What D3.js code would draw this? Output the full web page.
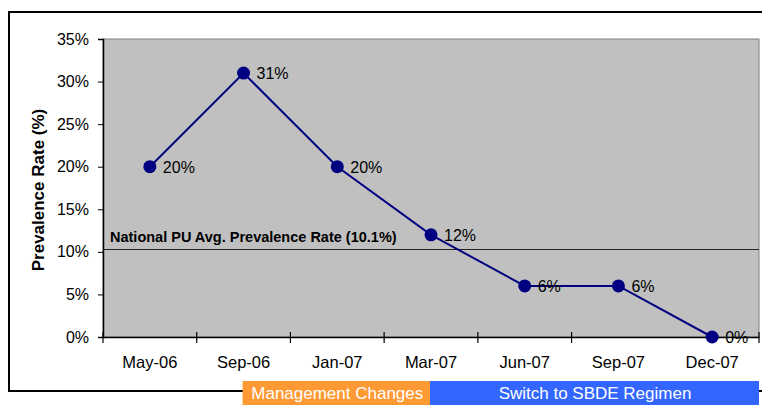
<!DOCTYPE html>
<html>
<head>
<meta charset="utf-8">
<style>
  body { margin: 0; background: #fff; }
  text { font-family: Arial, "Liberation Sans", sans-serif; }
</style>
</head>
<body>
<svg id="chart" width="762" height="405"></svg>

<script src="https://d3js.org/d3.v7.min.js"></script>
<script>
  // data
  var months = ["May-06", "Sep-06", "Jan-07", "Mar-07", "Jun-07", "Sep-07", "Dec-07"];
  var rates = [20, 31, 20, 12, 6, 6, 0];
  var yTicks = [0, 5, 10, 15, 20, 25, 30, 35];
  var nationalAvg = 10.1;
  var phases = [
    { label: "Management Changes", from: "Sep-06", to: "Mar-07", color: "#FF9933" },
    { label: "Switch to SBDE Regimen", from: "Mar-07", to: "Dec-07", color: "#3366FF" }
  ];

  var svg = d3.select("#chart");

  // outer chart frame
  svg.append("rect")
    .attr("x", 9).attr("y", 12).attr("width", 770).attr("height", 379)
    .attr("fill", "none").attr("stroke", "#000").attr("stroke-width", 2);

  var margin = { left: 103, top: 39, right: 3, bottom: 68 },
    width = 762 - margin.left - margin.right,
    height = 405 - margin.top - margin.bottom;

  var g = svg.append("g")
    .attr("transform", "translate(" + margin.left + "," + margin.top + ")");

  var x = d3.scaleBand().domain(months).range([0, width]);
  var y = d3.scaleLinear().domain([0, 35]).range([height, 0]);

  // plot area
  g.append("rect")
    .attr("width", width).attr("height", height)
    .attr("fill", "#C0C0C0").attr("stroke", "#808080").attr("stroke-width", 1);

  // y axis
  var yAxis = g.append("g")
    .call(d3.axisLeft(y).tickValues(yTicks).tickFormat(function (d) { return d + "%"; })
      .tickSize(5).tickPadding(9));
  yAxis.select(".domain").attr("stroke", "#000").attr("stroke-width", 1.5);
  yAxis.selectAll("text").attr("font-size", 16).attr("fill", "#000")
    .style("font-family", "Arial, 'Liberation Sans', sans-serif");

  // x axis, ticks between categories crossing the axis line
  var xAxis = g.append("g").attr("transform", "translate(0," + height + ")")
    .call(d3.axisBottom(x).tickSize(0).tickPadding(19));
  xAxis.select(".domain").attr("stroke", "#000").attr("stroke-width", 1.5);
  xAxis.selectAll("text").attr("font-size", 16.5).attr("fill", "#000")
    .style("font-family", "Arial, 'Liberation Sans', sans-serif");
  xAxis.selectAll(".sep")
    .data(months.slice(0, -1))
    .enter().append("line")
    .attr("x1", function (d) { return x(d); })
    .attr("x2", function (d) { return x(d); })
    .attr("y1", -5).attr("y2", 6)
    .attr("stroke", "#000").attr("stroke-width", 1.2);
  xAxis.append("line")
    .attr("x1", width).attr("x2", width).attr("y1", -5).attr("y2", 6)
    .attr("stroke", "#000").attr("stroke-width", 1.2);

  // national average line
  var avgY = Math.round(y(nationalAvg)) - 1.5;
  g.append("line")
    .attr("x1", 0).attr("x2", width)
    .attr("y1", avgY).attr("y2", avgY)
    .attr("stroke", "#222").attr("stroke-width", 1);
  g.append("text")
    .attr("x", 7).attr("y", y(nationalAvg) - 9)
    .attr("font-size", 14.5).attr("font-weight", "bold").attr("fill", "#000")
    .text("National PU Avg. Prevalence Rate (" + nationalAvg + "%)");

  // series
  var cx = function (d, i) { return x(months[i]) + x.bandwidth() / 2; };
  g.append("path")
    .datum(rates)
    .attr("fill", "none").attr("stroke", "#000080").attr("stroke-width", 2)
    .attr("d", d3.line().x(cx).y(function (d) { return y(d); }));

  g.selectAll(".dot")
    .data(rates)
    .enter().append("circle")
    .attr("cx", cx).attr("cy", function (d) { return y(d); })
    .attr("r", 6.5).attr("fill", "#000080");

  g.selectAll(".lbl")
    .data(rates)
    .enter().append("text")
    .attr("x", function (d, i) { return cx(d, i) + 13; })
    .attr("y", function (d) { return y(d) + 6; })
    .attr("font-size", 16).attr("fill", "#000")
    .text(function (d) { return d + "%"; });

  // y axis title
  svg.append("text")
    .attr("transform", "translate(44," + (margin.top + height / 2 + 2) + ") rotate(-90)")
    .attr("text-anchor", "middle")
    .attr("font-size", 17).attr("font-weight", "bold").attr("fill", "#000")
    .text("Prevalence Rate (%)");

  // phase boxes under the axis
  var phase = svg.selectAll(".phase")
    .data(phases)
    .enter().append("g");
  phase.append("rect")
    .attr("x", function (d) { return margin.left + x(d.from) + x.bandwidth() / 2 - 1; })
    .attr("y", 381)
    .attr("width", function (d) {
      var end = d.to === months[months.length - 1] ? width + 1 : x(d.to) + x.bandwidth() / 2 + 1;
      return end - x(d.from) - x.bandwidth() / 2;
    })
    .attr("height", 24)
    .attr("fill", function (d) { return d.color; });
  phase.append("text")
    .attr("x", function (d) {
      var s = x(d.from) + x.bandwidth() / 2;
      var e = d.to === months[months.length - 1] ? width : x(d.to) + x.bandwidth() / 2;
      return margin.left + (s + e) / 2;
    })
    .attr("y", 399)
    .attr("text-anchor", "middle")
    .attr("font-size", 17).attr("fill", "#fff")
    .text(function (d) { return d.label; });
</script>
</body>
</html>
